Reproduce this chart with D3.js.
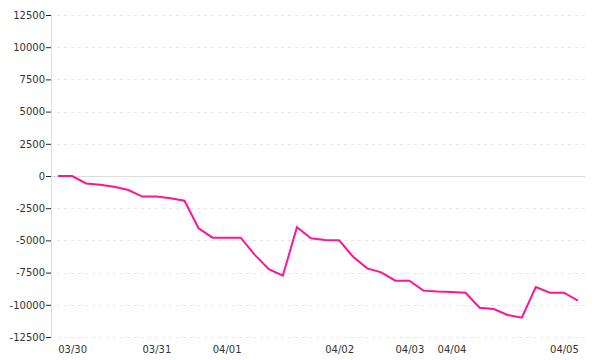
<!DOCTYPE html>
<html>
<head>
<meta charset="utf-8">
<script src="https://d3js.org/d3.v7.min.js"></script>
<style>
  body { margin: 0; background: #fff; }
  svg { display: block; }
  .tick text { font-family: "DejaVu Sans", sans-serif; font-size: 10px; fill: #333; }
  .grid line { stroke: #e6e6e6; stroke-dasharray: 3,4; }
</style>
</head>
<body>
<div id="chart"></div>
<script>
// one entry per sample, in order
var days = ["03/29",
  "03/30", "03/30", "03/30", "03/30", "03/30", "03/30",
  "03/31", "03/31", "03/31", "03/31", "03/31",
  "04/01", "04/01", "04/01", "04/01", "04/01", "04/01", "04/01", "04/01",
  "04/02", "04/02", "04/02", "04/02", "04/02",
  "04/03", "04/03", "04/03",
  "04/04", "04/04", "04/04", "04/04", "04/04", "04/04", "04/04", "04/04",
  "04/05", "04/05"];
var values = [0, 0, -580, -680, -830, -1090, -1600,
  -1600, -1730, -1920, -4060, -4790,
  -4790, -4790, -6120, -7240, -7740, -3980, -4840, -4970,
  -4990, -6270, -7170, -7480, -8130,
  -8130, -8900, -8970,
  -9000, -9060, -10230, -10330, -10790, -11000, -8620, -9060,
  -9060, -9680];
var yTicks = [-12500, -10000, -7500, -5000, -2500, 0, 2500, 5000, 7500, 10000, 12500];

var width = 600, height = 360;
var plotLeft = 51, plotRight = 585, plotTop = 15, plotBottom = 337;

var svg = d3.select("#chart").append("svg")
    .attr("width", width)
    .attr("height", height);

var x = d3.scalePoint()
    .domain(d3.range(values.length))
    .range([plotLeft, plotRight])
    .padding(0.5);

var y = d3.scaleLinear()
    .domain([-12500, 12500])
    .range([plotBottom, plotTop]);

// dashed grid lines (zero gets a solid line below)
svg.append("g")
    .attr("class", "grid")
  .selectAll("line")
    .data(yTicks.filter(function(d) { return d !== 0; }))
  .enter().append("line")
    .attr("x1", plotLeft + 6)
    .attr("x2", plotRight)
    .attr("y1", function(d) { return Math.round(y(d)) + 0.5; })
    .attr("y2", function(d) { return Math.round(y(d)) + 0.5; });

svg.append("line")
    .attr("x1", plotLeft)
    .attr("x2", plotRight)
    .attr("y1", Math.round(y(0)) + 0.5)
    .attr("y2", Math.round(y(0)) + 0.5)
    .attr("stroke", "#ddd");

var yAxis = svg.append("g")
    .attr("transform", "translate(" + plotLeft + ",0)")
    .call(d3.axisLeft(y).tickValues(yTicks).tickSize(5).tickPadding(1)
      .tickFormat(function(d) { return String(d); }));
yAxis.select(".domain").attr("stroke", "#ddd");
yAxis.selectAll(".tick line").attr("stroke", "#222");

// label the first sample of each day
var dayStarts = d3.range(1, days.length).filter(function(i) { return days[i] !== days[i - 1]; });

var xAxis = svg.append("g")
    .attr("transform", "translate(0," + plotBottom + ")")
    .call(d3.axisBottom(x).tickValues(dayStarts).tickSize(0).tickPadding(9)
      .tickFormat(function(i) { return days[i]; }));
xAxis.select(".domain").remove();

var line = d3.line()
    .x(function(d, i) { return x(i); })
    .y(function(d) { return y(d); });

svg.append("path")
    .datum(values)
    .attr("fill", "none")
    .attr("stroke", "#ff1493")
    .attr("stroke-width", 2)
    .attr("d", line);
</script>
</body>
</html>
